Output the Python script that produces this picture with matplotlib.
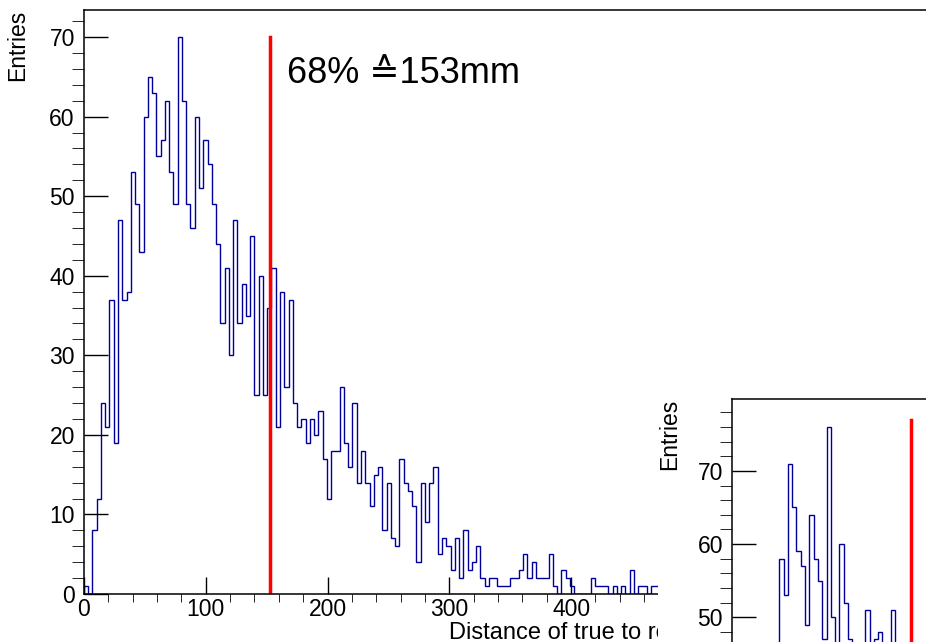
import numpy as np
import matplotlib
matplotlib.use("Agg")
import matplotlib.pyplot as plt
from matplotlib.ticker import MultipleLocator

plt.rcParams['font.family'] = ['Liberation Sans', 'DejaVu Sans']

# ---- data ----
bin_width = 3.5            # mm per bin
x_range = (0, 700)

# main histogram, bins from 0 mm
main_counts = [1, 0, 8, 12, 24, 21, 37, 19, 47, 37,
               38, 53, 49, 43, 60, 65, 63, 55, 57, 62,
               53, 49, 70, 62, 49, 46, 60, 51, 57, 54,
               49, 44, 34, 41, 30, 47, 34, 39, 35, 45,
               25, 40, 25, 36, 41, 21, 38, 26, 37, 24,
               21, 22, 19, 22, 20, 23, 17, 12, 18, 18,
               26, 19, 16, 24, 14, 18, 14, 11, 15, 16,
               8, 14, 7, 6, 17, 14, 13, 11, 4, 14,
               9, 14, 16, 5, 7, 6, 3, 7, 2, 8,
               3, 4, 6, 2, 1, 2, 2, 1, 1, 1,
               2, 2, 3, 5, 2, 4, 2, 2, 2, 5,
               1, 0, 3, 2, 1, 0, 0, 0, 0, 2,
               1, 1, 1, 0, 1, 0, 1, 0, 3, 0,
               1, 1, 0, 1, 1]
main_cut = 153             # 68% containment
main_cut_top = 70
main_label = "68% \u2259153mm"

# inset histogram (only the upper part is visible), first bin at 38.5 mm
inset_start = 38.5
inset_counts = [58, 53, 71, 65, 59, 57, 49, 64, 58, 55,
                47, 76, 50, 45, 60, 52, 47, 45, 45, 45,
                51, 45, 47, 48, 45, 45, 51, 45]
inset_cut = 146
inset_cut_top = 77

main_edges = np.arange(len(main_counts) + 1) * bin_width
inset_edges = inset_start + np.arange(len(inset_counts) + 1) * bin_width

# ---- figure ----
W, H = 926, 642
fig = plt.figure(figsize=(W / 100, H / 100), dpi=100)


def px_axes(left, top, w, h):
    return fig.add_axes([left / W, (H - top - h) / H, w / W, h / H])


def style_axes(ax, ymax):
    ax.set_xlim(*x_range)
    ax.set_ylim(0, ymax)
    ax.spines['right'].set_visible(False)
    for s in ax.spines.values():
        s.set_linewidth(1.1)
    ax.xaxis.set_major_locator(MultipleLocator(100))
    ax.xaxis.set_minor_locator(MultipleLocator(20))
    ax.yaxis.set_major_locator(MultipleLocator(10))
    ax.yaxis.set_minor_locator(MultipleLocator(2))
    ax.tick_params(direction='in', top=False, right=False, labelsize=16.5, width=1.0)
    ax.tick_params(axis='x', which='major', length=12, pad=3)
    ax.tick_params(axis='x', which='minor', length=6)
    ax.tick_params(axis='y', which='major', length=17, pad=6.5)
    ax.tick_params(axis='y', which='minor', length=8.5)


# main pad
ax = px_axes(83.9, 10, 852.6, 584)
style_axes(ax, 73.4)
ax.stairs(main_counts, main_edges, baseline=0, color='#000099', lw=1.0)
ax.plot([main_cut, main_cut], [0, main_cut_top], color='red', lw=2.5)
ax.text(167, 64.2, main_label, fontsize=26, ha='left', va='baseline')
ax.text(-66 / 852.6, 1.0, "Entries", rotation=90, ha='center', va='top',
        fontsize=16.5, transform=ax.transAxes)
ax.text(365 / 852.6, -39 / 584, "Distance of true to reconstructed vertex [mm]",
        fontsize=17, ha='left', va='center', transform=ax.transAxes, clip_on=False)

# inset pad background
pad = px_axes(658, 389, 300, 300)
pad.set_facecolor('white')
pad.set_xticks([])
pad.set_yticks([])
for s in pad.spines.values():
    s.set_visible(False)

# inset axes
inx = px_axes(732, 399, 859.6, 585)
style_axes(inx, 79.8)
inx.stairs(inset_counts, inset_edges, baseline=0, color='#000099', lw=1.0)
inx.plot([inset_cut, inset_cut], [0, inset_cut_top], color='red', lw=2.5)
inx.text(-62 / 859.6, 1.0, "Entries", rotation=90, ha='center', va='top',
         fontsize=16.5, transform=inx.transAxes)

fig.savefig("out.png", dpi=100)
